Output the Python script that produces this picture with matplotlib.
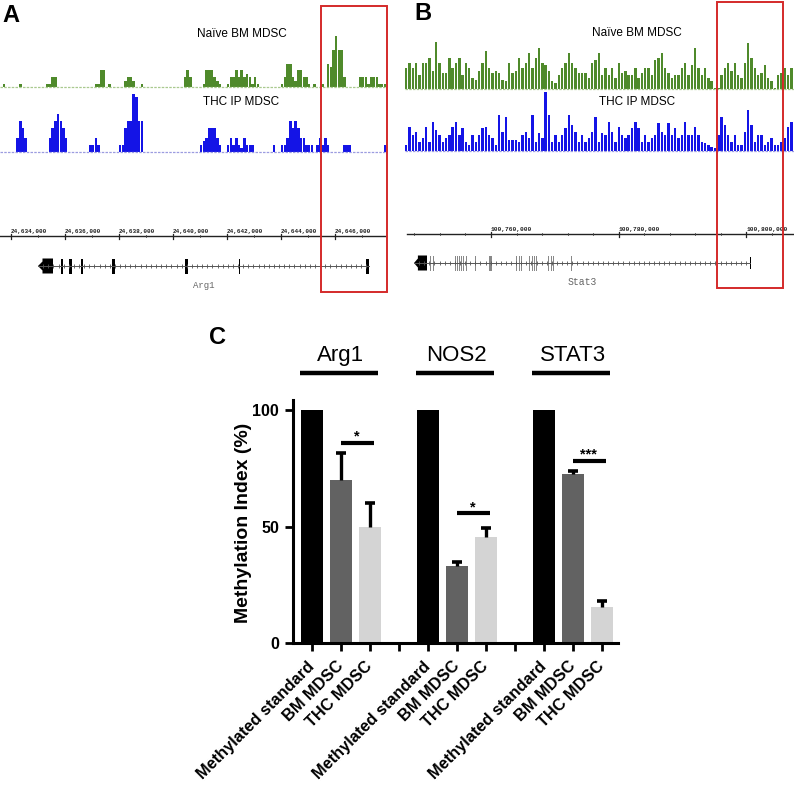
import matplotlib
matplotlib.use('Agg')
import matplotlib.pyplot as plt
import numpy as np
from matplotlib.patches import Rectangle, Polygon

W, H = 794, 795
plt.rcParams['font.family'] = ['Liberation Sans', 'DejaVu Sans']

# ---------------- panel A : Arg1 locus, 100 bp bins ----------------
ARG1_START = 24633600
ARG1_BIN = 100
ARG1_NAIVE = [0, 1, 0, 0, 0, 0, 0, 1, 0, 0,
              0, 0, 0, 0, 0, 0, 0, 1, 1, 3,
              3, 0, 0, 0, 0, 0, 0, 0, 0, 0,
              0, 0, 0, 0, 0, 1, 1, 5, 5, 0,
              1, 0, 0, 0, 0, 0, 2, 3, 3, 2,
              0, 0, 1, 0, 0, 0, 0, 0, 0, 0,
              0, 0, 0, 0, 0, 0, 0, 0, 3, 5,
              3, 0, 0, 0, 0, 1, 5, 5, 5, 3,
              2, 1, 0, 0, 1, 3, 3, 5, 3, 5,
              3, 4, 3, 1, 3, 1, 0, 0, 0, 0,
              0, 0, 0, 0, 1, 3, 7, 7, 3, 2,
              5, 5, 3, 3, 1, 0, 1, 0, 0, 1,
              0, 7, 6, 11, 15, 11, 11, 3, 0, 0,
              0, 0, 0, 3, 3, 3, 1, 3, 3, 3,
              1, 1, 1]
ARG1_THC = [0, 0, 0, 0, 0, 0, 4, 9, 7, 4,
            0, 0, 0, 0, 0, 0, 0, 0, 4, 7,
            9, 11, 9, 7, 4, 0, 0, 0, 0, 0,
            0, 0, 0, 2, 2, 4, 2, 0, 0, 0,
            0, 0, 0, 0, 2, 2, 7, 9, 9, 17,
            16, 9, 9, 0, 0, 0, 0, 0, 0, 0,
            0, 0, 0, 0, 0, 0, 0, 0, 0, 0,
            0, 0, 0, 0, 2, 3, 4, 7, 7, 7,
            4, 2, 0, 0, 2, 4, 2, 4, 2, 1,
            4, 2, 2, 2, 0, 0, 0, 0, 0, 0,
            0, 2, 0, 0, 2, 2, 4, 9, 7, 9,
            7, 4, 4, 2, 2, 2, 0, 2, 4, 2,
            4, 2, 0, 0, 0, 0, 0, 2, 2, 2,
            0, 0, 0, 0, 0, 0, 0, 0, 0, 0,
            0, 0, 2]
ARG1_TICKS = [24634000, 24636000, 24638000, 24640000, 24642000, 24644000, 24646000]
ARG1_EXONS = [(24635852, 24635926), (24636149, 24636260), (24636593, 24636667),
              (24637741, 24637852), (24640445, 24640556), (24642445, 24642482),
              (24647149, 24647260)]
ARG1_TAIL = (24635000, 24635556)
ARG1_HIGHLIGHT = (24645480, 24647925)

# ---------------- panel B : Stat3 locus, 520 bp bins ----------------
STAT3_START = 100746532
STAT3_BIN = 520
STAT3_NAIVE = [21, 26, 21, 26, 14, 26, 26, 31, 18, 47,
               26, 16, 16, 31, 21, 26, 31, 14, 26, 21,
               11, 9, 18, 26, 38, 21, 16, 18, 16, 9,
               8, 26, 16, 18, 31, 21, 26, 36, 21, 31,
               41, 26, 24, 18, 8, 6, 14, 21, 26, 36,
               26, 21, 16, 16, 16, 11, 26, 29,
               36, 14, 21, 14, 21, 11, 26, 16, 18, 14,
               14, 21, 11, 16, 21, 21, 14, 29, 31, 36,
               21, 16, 11, 14, 14, 21, 26, 14, 24, 41,
               21, 14, 21, 11, 8, 1, 1, 14, 21, 26,
               18, 26, 14, 11, 26, 46, 31, 21, 14, 16,
               24, 11, 8, 1, 14, 16, 21, 14, 21]
STAT3_THC = [6, 24, 16, 19, 9, 13, 24, 9, 29, 21,
             16, 9, 13, 16, 24, 29, 16, 23, 9, 6,
             16, 9, 16, 23, 24, 16, 13, 6, 36, 19,
             34, 11, 11, 11, 9, 16, 19, 13, 36, 9,
             18, 13, 59, 36, 9, 16, 9, 16, 23, 36,
             26, 19, 9, 16, 9, 13, 19, 34,
             9, 18, 16, 29, 19, 9, 24, 16, 13, 16,
             23, 29, 23, 9, 16, 9, 13, 16, 28, 19,
             16, 28, 16, 23, 13, 16, 29, 16, 16, 24,
             16, 9, 8, 6, 4, 3, 16, 34, 26, 16,
             9, 16, 6, 6, 19, 41, 26, 9, 16, 16,
             6, 9, 13, 6, 6, 9, 13, 24, 29]
STAT3_TICKS = [100760000, 100780000, 100800000]
STAT3_EXONS = [100750447, 100750917, 100754362, 100754676, 100754989, 100755302,
               100755615, 100756085, 100757494, 100759700, 100759850, 100760000,
               100763915, 100764385, 100764698, 100765951, 100766421, 100766734,
               100767047, 100768926, 100769396, 100769709, 100772528]
STAT3_TAIL = (100747942, 100749978)
STAT3_FIRST = 100800559
STAT3_HIGHLIGHT = (100795390, 100805730)

# ---------------- panel C : methylation index ----------------
GENES = ['Arg1', 'NOS2', 'STAT3']
SAMPLES = ['Methylated standard', 'BM MDSC', 'THC MDSC']
METHYL_STD = [100, 100, 100]
BM_MDSC = [70.0, 33.0, 72.4]
THC_MDSC = [50.0, 45.6, 15.3]
BM_ERR = [11.4, 1.8, 1.4]
THC_ERR = [10.0, 3.6, 2.6]
SIG_Y = [86, 55.6, 78.3]
SIG_MARK = ['*', '*', '***']

GREEN = '#4f8a2b'
GREEN_BASE = '#a9c98f'
BLUE = '#1414e6'
BLUE_BASE = '#9c9ce0'
RED = '#d42a2a'

fig = plt.figure(figsize=(W / 100, H / 100), dpi=100)


def px_axes(x0, y0, x1, y1):
    return fig.add_axes([x0 / W, 1 - y1 / H, (x1 - x0) / W, (y1 - y0) / H])


def ftext(x, y, s, **kw):
    fig.text(x / W, 1 - y / H, s, **kw)


def draw_track(box, xlim, start, binsize, values, ymax, color, base_color, width):
    ax = px_axes(*box)
    vals = np.array(values, dtype=float)
    x = start + np.arange(len(vals)) * binsize
    keep = vals > 0
    ax.bar(x[keep], vals[keep], width=binsize * width, align='edge',
           color=color, linewidth=0)
    ax.plot([start, start + len(vals) * binsize], [0, 0], color=base_color,
            lw=0.9, ls=(0, (2, 1)), clip_on=False)
    ax.set_xlim(*xlim)
    ax.set_ylim(0, ymax)
    ax.axis('off')
    return ax


def draw_overlay(box, xlim, start, end, ticks, minor, ruler_y, label_y, fs, hl, hl_top):
    ax = px_axes(*box)
    ax.set_xlim(*xlim)
    ax.set_ylim(box[3] - box[1], 0)
    ax.axis('off')
    ax.patch.set_alpha(0)
    ax.plot([start, end], [ruler_y, ruler_y], color='#222222', lw=1.0)
    for t in minor:
        ax.plot([t, t], [ruler_y - 1.2, ruler_y + 1.2], color='#444444', lw=0.6)
    for t in ticks:
        ax.plot([t, t], [ruler_y - 2.5, ruler_y + 2.5], color='#222222', lw=0.9)
        ax.text(t, label_y, f'{t:,}', ha='left', va='center', fontsize=fs,
                family='Liberation Mono', fontweight='bold', color='#222222')
    ax.add_patch(Rectangle((hl[0], hl_top), hl[1] - hl[0], 286, fill=False,
                           ec=RED, lw=1.4, zorder=5))
    return ax


def draw_gene(ax, g0, g1, gy, step, exons, exon_color, tail, first, name, name_y, fs):
    ax.plot([g0, g1], [gy, gy], color='#555555', lw=0.7)
    marks = np.arange(g0 + step, g1, step)
    ax.plot(marks, [gy] * len(marks), ls='none', marker='|', ms=2.6,
            mew=0.6, color='#555555')
    for e in exons:
        if isinstance(e, tuple):
            s, t = e
        else:
            s, t = e, e + (g1 - g0) * 0.004
        ax.add_patch(Rectangle((s, gy - 7.5), t - s, 15, color=exon_color, lw=0))
    s, t = tail
    arrow = (t - s) * 0.3
    ax.add_patch(Polygon([(s, gy), (s + arrow, gy - 4.5), (s + arrow, gy - 7.5),
                          (t, gy - 7.5), (t, gy + 7.5), (s + arrow, gy + 7.5),
                          (s + arrow, gy + 4.5)], closed=True, color='black', lw=0))
    if first is not None:
        ax.add_patch(Rectangle((first, gy - 6), (g1 - g0) * 0.004, 12,
                               color='black', lw=0))
    ax.text((g0 + g1) / 2, name_y, name, ha='center', va='center', fontsize=fs,
            family='Liberation Mono', color='#666666')


# ---- panel A ----
A_XLIM = (24633593, 24648037)
A_END = ARG1_START + len(ARG1_NAIVE) * ARG1_BIN
draw_track((0, 30, 390, 87.3), A_XLIM, ARG1_START, ARG1_BIN, ARG1_NAIVE,
           57.3 / 3.4, GREEN, GREEN_BASE, 0.92)
draw_track((0, 88, 390, 151.5), A_XLIM, ARG1_START, ARG1_BIN, ARG1_THC,
           63.5 / 3.4, BLUE, BLUE_BASE, 0.92)
ovA = draw_overlay((0, 0, 390, 300), A_XLIM, ARG1_START, A_END, ARG1_TICKS,
                   np.arange(24634000, A_END, 1000), 236, 231, 4.3,
                   ARG1_HIGHLIGHT, 6)
draw_gene(ovA, ARG1_TAIL[0], ARG1_EXONS[-1][1], 266, 190, ARG1_EXONS, 'black',
          ARG1_TAIL, None, 'Arg1', 285, 6.5)
ftext(242, 34, 'Naïve BM MDSC', ha='center', va='center', fontsize=8.5)
ftext(241, 102, 'THC IP MDSC', ha='center', va='center', fontsize=8.5)
ftext(11, 15, 'A', ha='center', va='center', fontsize=17, fontweight='bold')

# ---- panel B ----
B_XLIM = (100746532, 100807450)
B_END = STAT3_START + len(STAT3_NAIVE) * STAT3_BIN
draw_track((405, 35, 794, 89.3), B_XLIM, STAT3_START, STAT3_BIN, STAT3_NAIVE,
           54.3, GREEN, GREEN_BASE, 0.72)
draw_track((405, 90, 794, 151), B_XLIM, STAT3_START, STAT3_BIN, STAT3_THC,
           61, BLUE, BLUE_BASE, 0.72)
ovB = draw_overlay((405, 0, 794, 300), B_XLIM, STAT3_START + 300, B_END, STAT3_TICKS,
                   np.arange(100748000, B_END, 4000), 234, 229, 4.5,
                   STAT3_HIGHLIGHT, 2)
draw_gene(ovB, STAT3_TAIL[0], STAT3_FIRST, 263, 800, STAT3_EXONS, '#888888',
          STAT3_TAIL, STAT3_FIRST, 'Stat3', 282, 7)
ftext(637, 33, 'Naïve BM MDSC', ha='center', va='center', fontsize=8.5)
ftext(637, 102, 'THC IP MDSC', ha='center', va='center', fontsize=8.5)
ftext(423, 14, 'B', ha='center', va='center', fontsize=17, fontweight='bold')

# ---- panel C ----
ax = px_axes(293, 400, 618, 643)
starts = np.arange(len(GENES)) * 4
colors = ['#000000', '#626262', '#d4d4d4']
for off, vals, col in zip(range(3), [METHYL_STD, BM_MDSC, THC_MDSC], colors):
    ax.bar(starts + off, vals, width=0.76, color=col, zorder=2)
for off, vals, err in [(1, BM_MDSC, BM_ERR), (2, THC_MDSC, THC_ERR)]:
    eb = ax.errorbar(starts + off, vals, yerr=[np.zeros(len(err)), err], fmt='none',
                     ecolor='black', elinewidth=2.4, capsize=3.5, capthick=2.6,
                     zorder=3)
    # one-sided bars: keep only the upper cap
    eb[1][0].set_visible(False)

for g, gene, sy, mark in zip(starts, GENES, SIG_Y, SIG_MARK):
    ax.text(g + 1, 123.6, gene, ha='center', va='center', fontsize=16, clip_on=False)
    ax.plot([g - 0.4, g + 2.3], [115.9, 115.9], color='black', lw=3.2,
            solid_capstyle='butt', clip_on=False)
    ax.plot([g + 1, g + 2.15], [sy, sy], color='black', lw=3,
            solid_capstyle='butt', clip_on=False)
    ax.text(g + 1.55, sy + 2.6, mark, ha='center', va='center', fontsize=10.5,
            fontweight='bold', clip_on=False)

ax.set_xlim(-0.645, 10.56)
ax.set_ylim(0, 104.3)
ax.set_yticks([0, 50, 100])
ax.set_yticklabels(['0', '50', '100'], fontsize=11.5, fontweight='bold')
tick_labels = []
for g in range(len(GENES)):
    tick_labels += SAMPLES + ([''] if g < len(GENES) - 1 else [])
ax.set_xticks(range(len(tick_labels)))
ax.set_xticklabels(tick_labels, rotation=45, ha='right', va='center',
                   rotation_mode='anchor', fontsize=11.8, fontweight='bold')
ax.tick_params(axis='both', width=2, length=6, direction='out', pad=4)
ax.tick_params(axis='x', pad=9)
for side in ['top', 'right']:
    ax.spines[side].set_visible(False)
for side in ['left', 'bottom']:
    ax.spines[side].set_linewidth(2.2)
ax.set_ylabel('Methylation Index (%)', fontsize=14, fontweight='bold')
ax.yaxis.set_label_coords(-0.126, 0.494)
ftext(218, 338, 'C', ha='center', va='center', fontsize=17, fontweight='bold')

fig.savefig('out.png', dpi=100)
